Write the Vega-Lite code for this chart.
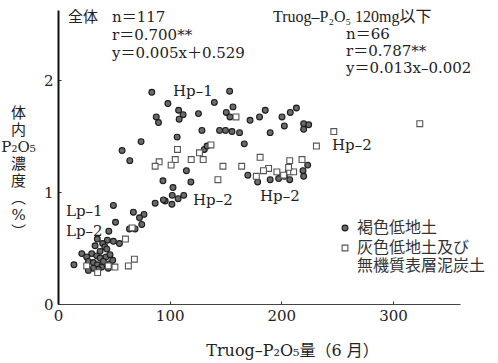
{
  "$schema": "https://vega.github.io/schema/vega-lite/v6.json",
  "width": 402,
  "height": 294,
  "autosize": "none",
  "padding": {"left": 58, "top": 10, "right": 38, "bottom": 59},
  "background": "white",
  "config": {"view": {"stroke": null}, "font": "DejaVu Serif, Noto Sans CJK JP", "text": {"color": "#222"}},
  "datasets": {
    "pts": [
      {"p": 84, "c": 1.89, "soil": "褐色低地土"},
      {"p": 98.4, "c": 1.79, "soil": "褐色低地土"},
      {"p": 108, "c": 1.73, "soil": "褐色低地土"},
      {"p": 112, "c": 1.69, "soil": "褐色低地土"},
      {"p": 108.5, "c": 1.65, "soil": "褐色低地土"},
      {"p": 88, "c": 1.67, "soil": "褐色低地土"},
      {"p": 90, "c": 1.62, "soil": "褐色低地土"},
      {"p": 106.7, "c": 1.49, "soil": "褐色低地土"},
      {"p": 74.4, "c": 1.45, "soil": "褐色低地土"},
      {"p": 57.4, "c": 1.37, "soil": "褐色低地土"},
      {"p": 64.3, "c": 1.28, "soil": "褐色低地土"},
      {"p": 115, "c": 1.19, "soil": "褐色低地土"},
      {"p": 94, "c": 1.10, "soil": "褐色低地土"},
      {"p": 103, "c": 1.04, "soil": "褐色低地土"},
      {"p": 96, "c": 0.92, "soil": "褐色低地土"},
      {"p": 102.3, "c": 0.97, "soil": "褐色低地土"},
      {"p": 102, "c": 0.89, "soil": "褐色低地土"},
      {"p": 107.6, "c": 0.94, "soil": "褐色低地土"},
      {"p": 112.6, "c": 0.97, "soil": "褐色低地土"},
      {"p": 119, "c": 1.09, "soil": "褐色低地土"},
      {"p": 153.7, "c": 1.90, "soil": "褐色低地土"},
      {"p": 140, "c": 1.80, "soil": "褐色低地土"},
      {"p": 156.7, "c": 1.76, "soil": "褐色低地土"},
      {"p": 150.7, "c": 1.71, "soil": "褐色低地土"},
      {"p": 154, "c": 1.67, "soil": "褐色低地土"},
      {"p": 125.8, "c": 1.70, "soil": "褐色低地土"},
      {"p": 172, "c": 1.64, "soil": "褐色低地土"},
      {"p": 180.5, "c": 1.67, "soil": "褐色低地土"},
      {"p": 185.6, "c": 1.73, "soil": "褐色低地土"},
      {"p": 190, "c": 1.53, "soil": "褐色低地土"},
      {"p": 128.9, "c": 1.55, "soil": "褐色低地土"},
      {"p": 144.7, "c": 1.55, "soil": "褐色低地土"},
      {"p": 150, "c": 1.55, "soil": "褐色低地土"},
      {"p": 155.8, "c": 1.54, "soil": "褐色低地土"},
      {"p": 162.6, "c": 1.53, "soil": "褐色低地土"},
      {"p": 166.8, "c": 1.43, "soil": "褐色低地土"},
      {"p": 131, "c": 1.38, "soil": "褐色低地土"},
      {"p": 133.5, "c": 1.41, "soil": "褐色低地土"},
      {"p": 200.6, "c": 1.67, "soil": "褐色低地土"},
      {"p": 208, "c": 1.71, "soil": "褐色低地土"},
      {"p": 213.5, "c": 1.75, "soil": "褐色低地土"},
      {"p": 202.7, "c": 1.59, "soil": "褐色低地土"},
      {"p": 220, "c": 1.61, "soil": "褐色低地土"},
      {"p": 224.5, "c": 1.60, "soil": "褐色低地土"},
      {"p": 220, "c": 1.56, "soil": "褐色低地土"},
      {"p": 170, "c": 1.15, "soil": "褐色低地土"},
      {"p": 178.8, "c": 1.09, "soil": "褐色低地土"},
      {"p": 190, "c": 1.11, "soil": "褐色低地土"},
      {"p": 197.6, "c": 1.12, "soil": "褐色低地土"},
      {"p": 207.5, "c": 1.11, "soil": "褐色低地土"},
      {"p": 206.5, "c": 1.18, "soil": "褐色低地土"},
      {"p": 219.4, "c": 1.19, "soil": "褐色低地土"},
      {"p": 223.6, "c": 1.24, "soil": "褐色低地土"},
      {"p": 220, "c": 1.14, "soil": "褐色低地土"},
      {"p": 202.7, "c": 1.14, "soil": "褐色低地土"},
      {"p": 49.6, "c": 0.88, "soil": "褐色低地土"},
      {"p": 67.5, "c": 0.82, "soil": "褐色低地土"},
      {"p": 77, "c": 0.80, "soil": "褐色低地土"},
      {"p": 73, "c": 0.77, "soil": "褐色低地土"},
      {"p": 87, "c": 0.90, "soil": "褐色低地土"},
      {"p": 94.4, "c": 0.93, "soil": "褐色低地土"},
      {"p": 51.5, "c": 0.73, "soil": "褐色低地土"},
      {"p": 64, "c": 0.67, "soil": "褐色低地土"},
      {"p": 69, "c": 0.67, "soil": "褐色低地土"},
      {"p": 75, "c": 0.71, "soil": "褐色低地土"},
      {"p": 45.5, "c": 0.65, "soil": "褐色低地土"},
      {"p": 35.2, "c": 0.58, "soil": "褐色低地土"},
      {"p": 44.2, "c": 0.57, "soil": "褐色低地土"},
      {"p": 49.6, "c": 0.56, "soil": "褐色低地土"},
      {"p": 55, "c": 0.54, "soil": "褐色低地土"},
      {"p": 33.2, "c": 0.52, "soil": "褐色低地土"},
      {"p": 40, "c": 0.54, "soil": "褐色低地土"},
      {"p": 42, "c": 0.51, "soil": "褐色低地土"},
      {"p": 43.7, "c": 0.49, "soil": "褐色低地土"},
      {"p": 37.7, "c": 0.47, "soil": "褐色低地土"},
      {"p": 14.3, "c": 0.35, "soil": "褐色低地土"},
      {"p": 21.3, "c": 0.45, "soil": "褐色低地土"},
      {"p": 25.7, "c": 0.42, "soil": "褐色低地土"},
      {"p": 30.2, "c": 0.45, "soil": "褐色低地土"},
      {"p": 34.7, "c": 0.43, "soil": "褐色低地土"},
      {"p": 37.7, "c": 0.41, "soil": "褐色低地土"},
      {"p": 43, "c": 0.42, "soil": "褐色低地土"},
      {"p": 46.6, "c": 0.44, "soil": "褐色低地土"},
      {"p": 27.2, "c": 0.38, "soil": "褐色低地土"},
      {"p": 31.7, "c": 0.37, "soil": "褐色低地土"},
      {"p": 35.2, "c": 0.35, "soil": "褐色低地土"},
      {"p": 39.2, "c": 0.33, "soil": "褐色低地土"},
      {"p": 36, "c": 0.31, "soil": "褐色低地土"},
      {"p": 31.7, "c": 0.32, "soil": "褐色低地土"},
      {"p": 27.2, "c": 0.30, "soil": "褐色低地土"},
      {"p": 45, "c": 0.32, "soil": "褐色低地土"},
      {"p": 46.6, "c": 0.36, "soil": "褐色低地土"},
      {"p": 40.6, "c": 0.38, "soil": "褐色低地土"},
      {"p": 49, "c": 0.39, "soil": "褐色低地土"},
      {"p": 107, "c": 1.38, "soil": "灰色低地土及び無機質表層泥炭土"},
      {"p": 90.6, "c": 1.27, "soil": "灰色低地土及び無機質表層泥炭土"},
      {"p": 87, "c": 1.23, "soil": "灰色低地土及び無機質表層泥炭土"},
      {"p": 105, "c": 1.29, "soil": "灰色低地土及び無機質表層泥炭土"},
      {"p": 101.3, "c": 1.24, "soil": "灰色低地土及び無機質表層泥炭土"},
      {"p": 159.4, "c": 1.67, "soil": "灰色低地土及び無機質表層泥炭土"},
      {"p": 137, "c": 1.42, "soil": "灰色低地土及び無機質表層泥炭土"},
      {"p": 126.7, "c": 1.35, "soil": "灰色低地土及び無機質表層泥炭土"},
      {"p": 130, "c": 1.29, "soil": "灰色低地土及び無機質表層泥炭土"},
      {"p": 119.3, "c": 1.29, "soil": "灰色低地土及び無機質表層泥炭土"},
      {"p": 147.7, "c": 1.23, "soil": "灰色低地土及び無機質表層泥炭土"},
      {"p": 164.5, "c": 1.23, "soil": "灰色低地土及び無機質表層泥炭土"},
      {"p": 181, "c": 1.31, "soil": "灰色低地土及び無機質表層泥炭土"},
      {"p": 188.6, "c": 1.21, "soil": "灰色低地土及び無機質表層泥炭土"},
      {"p": 184, "c": 1.19, "soil": "灰色低地土及び無機質表層泥炭土"},
      {"p": 177.6, "c": 1.14, "soil": "灰色低地土及び無機質表層泥炭土"},
      {"p": 143.2, "c": 1.11, "soil": "灰色低地土及び無機質表層泥炭土"},
      {"p": 207.5, "c": 1.28, "soil": "灰色低地土及び無機質表層泥炭土"},
      {"p": 218.5, "c": 1.29, "soil": "灰色低地土及び無機質表層泥炭土"},
      {"p": 196, "c": 1.18, "soil": "灰色低地土及び無機質表層泥炭土"},
      {"p": 202, "c": 1.15, "soil": "灰色低地土及び無機質表層泥炭土"},
      {"p": 207.5, "c": 1.18, "soil": "灰色低地土及び無機質表層泥炭土"},
      {"p": 211, "c": 1.18, "soil": "灰色低地土及び無機質表層泥炭土"},
      {"p": 206.5, "c": 1.22, "soil": "灰色低地土及び無機質表層泥炭土"},
      {"p": 247, "c": 1.54, "soil": "灰色低地土及び無機質表層泥炭土"},
      {"p": 231.4, "c": 1.41, "soil": "灰色低地土及び無機質表層泥炭土"},
      {"p": 324, "c": 1.61, "soil": "灰色低地土及び無機質表層泥炭土"},
      {"p": 25.7, "c": 0.34, "soil": "灰色低地土及び無機質表層泥炭土"},
      {"p": 35.5, "c": 0.28, "soil": "灰色低地土及び無機質表層泥炭土"},
      {"p": 51, "c": 0.33, "soil": "灰色低地土及び無機質表層泥炭土"},
      {"p": 63, "c": 0.34, "soil": "灰色低地土及び無機質表層泥炭土"},
      {"p": 68.4, "c": 0.40, "soil": "灰色低地土及び無機質表層泥炭土"},
      {"p": 45, "c": 0.34, "soil": "灰色低地土及び無機質表層泥炭土"},
      {"p": 60.4, "c": 0.58, "soil": "灰色低地土及び無機質表層泥炭土"},
      {"p": 66.4, "c": 0.68, "soil": "灰色低地土及び無機質表層泥炭土"}
    ],
    "notes": [
      {"p": 9, "c": 2.5625, "t": "全体"},
      {"p": 48.4, "c": 2.5625, "t": "n＝117"},
      {"p": 48.4, "c": 2.40, "t": "r＝0.700**"},
      {"p": 48.4, "c": 2.24, "t": "y＝0.005x＋0.529"},
      {"p": 258, "c": 2.41, "t": "n＝66"},
      {"p": 258, "c": 2.26, "t": "r＝0.787**"},
      {"p": 258, "c": 2.11, "t": "y＝0.013x–0.002"},
      {"p": 103, "c": 1.90, "t": "Hp–1"},
      {"p": 120.9, "c": 0.93, "t": "Hp–2"},
      {"p": 180.9, "c": 0.964, "t": "Hp–2"},
      {"p": 245.4, "c": 1.42, "t": "Hp–2"},
      {"p": 7.2, "c": 0.83, "t": "Lp–1"},
      {"p": 7.2, "c": 0.652, "t": "Lp–2"}
    ],
    "heads": [
      {"p": 192.5, "c": 2.5625, "t": "Truog–P₂O₅  120mg以下"}
    ]
  },
  "layer": [
    {
      "data": {"name": "pts"},
      "mark": {"type": "point", "filled": true, "size": 34, "strokeWidth": 1.1, "opacity": 1},
      "encoding": {
        "x": {
          "field": "p", "type": "quantitative",
          "scale": {"domain": [0, 360], "nice": false, "zero": false},
          "axis": {
            "values": [0, 100, 200, 300],
            "title": "Truog–P₂O₅量（6 月）",
            "titleFontWeight": "normal", "titleFontSize": 16, "titleColor": "#222",
            "titleX": 234, "titleY": 46, "titleBaseline": "middle", "titleAlign": "center",
            "labelFontSize": 15, "labelColor": "#222", "labelPadding": 7, "labelFlush": false,
            "tickSize": -3, "tickColor": "#333",
            "domainColor": "#444", "domainWidth": 1.2, "grid": false
          }
        },
        "y": {
          "field": "c", "type": "quantitative",
          "scale": {"domain": [0, 2.625], "nice": false},
          "axis": {
            "values": [0, 1, 2],
            "format": "d",
            "title": ["体", "内", "P₂O₅", "濃", "度", "︵", "%", "︶"],
            "titleAngle": 0, "titleFontWeight": "normal", "titleFontSize": 15, "titleColor": "#222",
            "titleX": -40, "titleY": 95, "titleBaseline": "top", "titleAlign": "center", "titleLineHeight": 17,
            "labelFontSize": 15, "labelColor": "#222", "labelPadding": 8,
            "tickSize": -3, "tickColor": "#333",
            "domainColor": "#111", "domainWidth": 2, "grid": false
          }
        },
        "shape": {
          "field": "soil", "type": "nominal",
          "scale": {"domain": ["褐色低地土", "灰色低地土及び無機質表層泥炭土"], "range": ["circle", "square"]},
          "legend": {
            "title": null, "orient": "none", "legendX": 279, "legendY": 210,
            "labelFont": "Noto Sans CJK JP", "labelFontSize": 16, "labelColor": "#333",
            "labelExpr": "datum.label == '灰色低地土及び無機質表層泥炭土' ? ['灰色低地土及び', '無機質表層泥炭土'] : datum.label",
            "labelLimit": 300, "symbolSize": 34, "symbolStrokeWidth": 1.1, "rowPadding": 4, "labelOffset": 4, "padding": 0
          }
        },
        "fill": {
          "field": "soil", "type": "nominal",
          "scale": {"domain": ["褐色低地土", "灰色低地土及び無機質表層泥炭土"], "range": ["#6a6a6a", "#ffffff"]}
        },
        "stroke": {
          "field": "soil", "type": "nominal",
          "scale": {"domain": ["褐色低地土", "灰色低地土及び無機質表層泥炭土"], "range": ["#1a1a1a", "#555555"]}
        }
      }
    },
    {
      "data": {"name": "notes"},
      "mark": {"type": "text", "align": "left", "baseline": "middle", "fontSize": 15, "font": "DejaVu Serif, Noto Sans CJK JP", "color": "#222"},
      "encoding": {
        "x": {"field": "p", "type": "quantitative"},
        "y": {"field": "c", "type": "quantitative"},
        "text": {"field": "t"}
      }
    },
    {
      "data": {"name": "heads"},
      "mark": {"type": "text", "align": "left", "baseline": "middle", "fontSize": 16, "font": "Liberation Serif, Noto Sans CJK JP", "color": "#222"},
      "encoding": {
        "x": {"field": "p", "type": "quantitative"},
        "y": {"field": "c", "type": "quantitative"},
        "text": {"field": "t"}
      }
    }
  ]
}
